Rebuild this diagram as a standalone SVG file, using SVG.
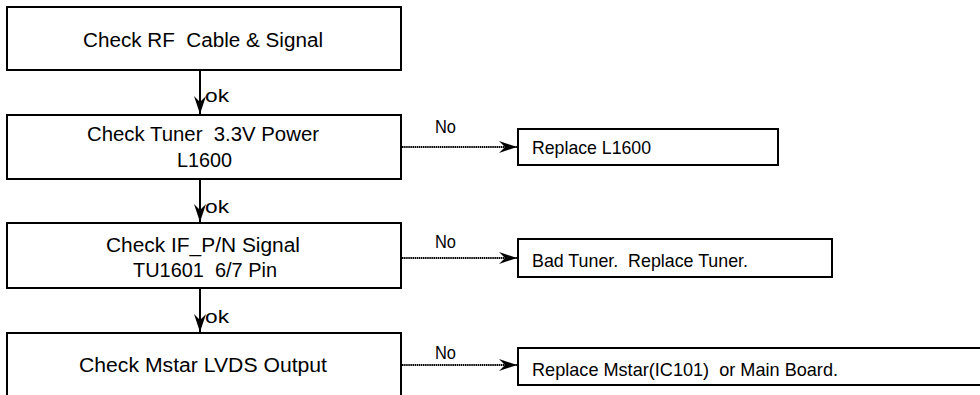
<svg xmlns="http://www.w3.org/2000/svg" width="980" height="395" viewBox="0 0 980 395">
<defs>
<style>
.box{fill:#fff;stroke:#000;stroke-width:2}
.t{font-family:"Liberation Sans",Arial,sans-serif;font-size:20px;fill:#000}
.r{font-family:"Liberation Sans",Arial,sans-serif;font-size:19px;fill:#000}
.l{font-family:"Liberation Sans",Arial,sans-serif;font-size:18px;fill:#000}
.solid{stroke:#000;stroke-width:2;fill:none}
.dot{stroke:#000;stroke-width:2.2;fill:none;stroke-dasharray:1.5 0.6}
</style>
<marker id="ah" viewBox="0 0 18 12" refX="18" refY="6" markerWidth="18" markerHeight="12" markerUnits="userSpaceOnUse" orient="auto">
<path d="M0,0 L18,6 L0,12 L6,6 Z" fill="#000"/>
</marker>
</defs>
<rect width="980" height="395" fill="#fff"/>
<g id="n1">
<rect class="box" x="7" y="7" width="394" height="63"/>
<text class="t" x="83" y="47" textLength="240" lengthAdjust="spacingAndGlyphs" xml:space="preserve">Check RF  Cable &amp; Signal</text>
</g>
<g id="n2">
<rect class="box" x="7" y="115" width="394" height="64"/>
<text class="t" x="87" y="141" textLength="232" lengthAdjust="spacingAndGlyphs" xml:space="preserve">Check Tuner  3.3V Power</text>
<text class="t" x="177" y="167" textLength="55" lengthAdjust="spacingAndGlyphs">L1600</text>
</g>
<g id="n3">
<rect class="box" x="7" y="223" width="394" height="65"/>
<text class="t" x="106" y="252" textLength="194" lengthAdjust="spacingAndGlyphs">Check IF_P/N Signal</text>
<text class="t" x="133" y="277" textLength="144" lengthAdjust="spacingAndGlyphs" xml:space="preserve">TU1601  6/7 Pin</text>
</g>
<g id="n4">
<rect class="box" x="7" y="333" width="394" height="80"/>
<text class="t" x="79" y="372" textLength="248" lengthAdjust="spacingAndGlyphs">Check Mstar LVDS Output</text>
</g>
<g id="r1">
<rect class="box" x="518" y="129" width="260" height="36"/>
<text class="r" x="532" y="154" textLength="119" lengthAdjust="spacingAndGlyphs">Replace L1600</text>
</g>
<g id="r2">
<rect class="box" x="518" y="239" width="314" height="38"/>
<text class="r" x="532" y="267" textLength="216" lengthAdjust="spacingAndGlyphs" xml:space="preserve">Bad Tuner.  Replace Tuner.</text>
</g>
<g id="r3">
<rect class="box" x="518" y="348" width="480" height="37"/>
<text class="r" x="532" y="376" textLength="306" lengthAdjust="spacingAndGlyphs" xml:space="preserve">Replace Mstar(IC101)  or Main Board.</text>
</g>
<g id="connectors">
<line class="solid" x1="200" y1="71" x2="200" y2="114" marker-end="url(#ah)"/>
<line class="solid" x1="200" y1="180" x2="200" y2="222" marker-end="url(#ah)"/>
<line class="solid" x1="200" y1="289" x2="200" y2="332" marker-end="url(#ah)"/>
<text class="l" x="205" y="101.5" textLength="24" lengthAdjust="spacingAndGlyphs">ok</text>
<text class="l" x="205" y="213" textLength="24" lengthAdjust="spacingAndGlyphs">ok</text>
<text class="l" x="205" y="322.5" textLength="24" lengthAdjust="spacingAndGlyphs">ok</text>
<line class="dot" x1="402" y1="147" x2="517" y2="147" marker-end="url(#ah)"/>
<line class="dot" x1="402" y1="258" x2="517" y2="258" marker-end="url(#ah)"/>
<line class="dot" x1="402" y1="365" x2="517" y2="365" marker-end="url(#ah)"/>
<text class="l" x="435" y="133" textLength="21" lengthAdjust="spacingAndGlyphs">No</text>
<text class="l" x="435" y="248" textLength="21" lengthAdjust="spacingAndGlyphs">No</text>
<text class="l" x="435" y="359" textLength="21" lengthAdjust="spacingAndGlyphs">No</text>
</g>
</svg>
